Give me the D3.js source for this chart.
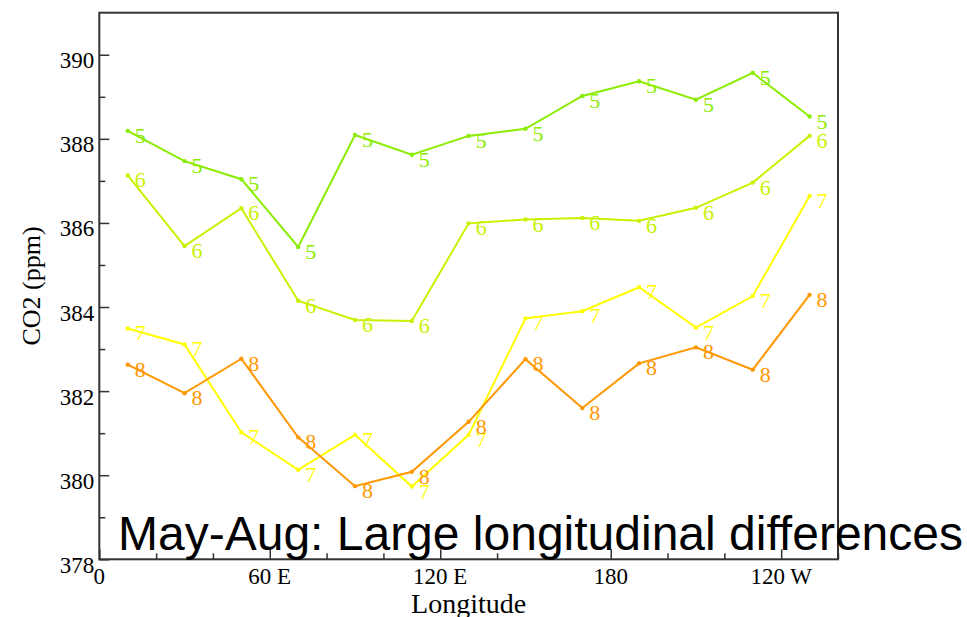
<!DOCTYPE html>
<html>
<head>
<meta charset="utf-8">
<script src="https://cdn.jsdelivr.net/npm/d3@7/dist/d3.min.js"></script>
<style>
  html, body { margin: 0; padding: 0; background: #fff; }
  svg { display: block; }
</style>
</head>
<body>
<svg id="chart" width="967" height="617"></svg>
<script>
// Longitudes of the zonal bins (degrees east, 0..360)
const longitudes = [10, 30, 50, 70, 90, 110, 130, 150, 170, 190, 210, 230, 250];

// Monthly mean CO2 (ppm) per longitude bin, May (5) through August (8)
const months = ["5", "6", "7", "8"];
const may = [388.19, 387.47, 387.04, 385.43, 388.09, 387.62, 388.07, 388.24, 389.02, 389.37, 388.93, 389.57, 388.53];
const jun = [387.13, 385.45, 386.35, 384.15, 383.69, 383.67, 385.99, 386.08, 386.12, 386.05, 386.36, 386.96, 388.07];
const jul = [383.49, 383.11, 381.02, 380.13, 380.96, 379.73, 380.96, 383.73, 383.90, 384.47, 383.51, 384.26, 386.64];
const aug = [382.63, 381.95, 382.77, 380.90, 379.74, 380.08, 381.27, 382.76, 381.60, 382.66, 383.04, 382.51, 384.29];
const monthColors = ["#8aec00", "#c8f200", "#ffff00", "#ff9800"];

// Axis ticks
const xMajorTicks = [0, 60, 120, 180, 240];
const xTickLabels = ["0", "60 E", "120 E", "180", "120 W"];
const yMajorTicks = [378, 380, 382, 384, 386, 388, 390];

const titleText = "May-Aug: Large longitudinal differences";

const svg = d3.select("#chart");
const plotLeft = 99.3, plotRight = 838, plotTop = 12.7, plotBottom = 559.3;

const x = d3.scaleLinear().domain([0, 260]).range([plotLeft, plotRight]);
const y = d3.scaleLinear().domain([378, 391]).range([plotBottom, plotTop]);

const serif = "'Liberation Serif', 'Times New Roman', serif";
const axisColor = "#333";

// Frame
svg.append("rect")
  .attr("x", plotLeft).attr("y", plotTop)
  .attr("width", plotRight - plotLeft).attr("height", plotBottom - plotTop)
  .attr("fill", "none").attr("stroke", axisColor).attr("stroke-width", 2);

// Y axis: inward ticks, major every 2 ppm, minor every 1 ppm
const yAxis = d3.axisRight(y)
  .tickValues(d3.range(378, 391, 1))
  .tickSize(0)
  .tickFormat("");
const yg = svg.append("g").attr("transform", `translate(${plotLeft},0)`).call(yAxis);
yg.select(".domain").remove();
yg.selectAll(".tick line")
  .attr("x2", d => (d % 2 === 0 ? 10 : 6))
  .attr("stroke", axisColor).attr("stroke-width", 1.5);

svg.append("g").selectAll("text")
  .data(yMajorTicks).join("text")
  .attr("x", plotLeft - 5)
  .attr("y", d => y(d) + 13.5)
  .attr("text-anchor", "end")
  .attr("font-family", serif).attr("font-size", 23)
  .attr("fill", "#000")
  .text(d => d);

// X axis: inward ticks, major every 60 deg, minor every 20 deg
const xAxis = d3.axisTop(x)
  .tickValues(d3.range(0, 261, 20))
  .tickSize(0)
  .tickFormat("");
const xg = svg.append("g").attr("transform", `translate(0,${plotBottom})`).call(xAxis);
xg.select(".domain").remove();
xg.selectAll(".tick line")
  .attr("y2", d => (d % 60 === 0 ? -10 : -6))
  .attr("stroke", axisColor).attr("stroke-width", 1.5);

svg.append("g").selectAll("text")
  .data(xMajorTicks).join("text")
  .attr("x", d => x(d))
  .attr("y", plotBottom + 25)
  .attr("text-anchor", "middle")
  .attr("font-family", serif).attr("font-size", 23)
  .attr("fill", "#000")
  .text((d, i) => xTickLabels[i]);

// Axis titles
svg.append("text")
  .attr("x", x(130)).attr("y", 613)
  .attr("text-anchor", "middle")
  .attr("font-family", serif).attr("font-size", 28)
  .text("Longitude");

svg.append("text")
  .attr("transform", `translate(40,${(plotTop + plotBottom) / 2}) rotate(-90)`)
  .attr("text-anchor", "middle")
  .attr("font-family", serif).attr("font-size", 26)
  .text("CO2 (ppm)");

// Series
const seriesValues = [may, jun, jul, aug];
const line = d3.line().x(d => x(d[0])).y(d => y(d[1]));

seriesValues.forEach((vals, i) => {
  const pts = longitudes.map((lon, j) => [lon, vals[j]]);
  const g = svg.append("g");
  g.append("path")
    .attr("d", line(pts))
    .attr("fill", "none")
    .attr("stroke", monthColors[i])
    .attr("stroke-width", 2);
  g.selectAll("circle").data(pts).join("circle")
    .attr("cx", d => x(d[0])).attr("cy", d => y(d[1]))
    .attr("r", 2.2)
    .attr("fill", monthColors[i]);
  g.selectAll("text").data(pts).join("text")
    .attr("x", d => x(d[0]) + 7)
    .attr("y", d => y(d[1]) + 12)
    .attr("font-family", serif).attr("font-size", 22)
    .attr("fill", monthColors[i])
    .text(months[i]);
});

// Headline
svg.append("text")
  .attr("x", 118).attr("y", 550)
  .attr("font-family", "'Liberation Sans', Arial, sans-serif")
  .attr("font-size", 48)
  .attr("fill", "#000")
  .text(titleText);
</script>
</body>
</html>
